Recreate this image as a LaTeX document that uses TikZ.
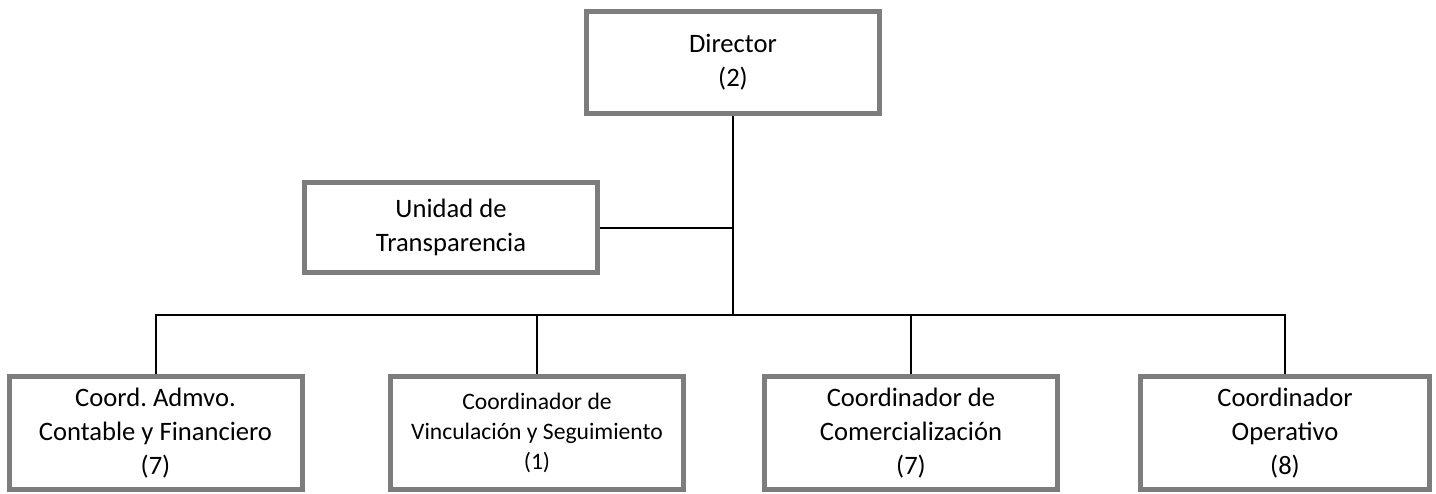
\documentclass[tikz,border=0pt]{standalone}
\usepackage{fontspec}
\setmainfont{Carlito}
\usepackage{tikz}
\usetikzlibrary{calc}
\tikzset{ org_box/.style = {rectangle, draw=gray!98!black, line width=2.5pt, fill=white, align=center, minimum width=146.5pt, inner sep=0pt, font=\fontsize{13.3}{17}\selectfont} }
\tikzset{ org_line/.style = {line width=1pt, black} }

\begin{document}
\begin{tikzpicture}[x=0.5pt, y=-0.5pt]
    \useasboundingbox (0,0) rectangle (1436,493);
    \node[org_box, minimum height=51pt] (dir) at (733,62.5) {Director\\(2)};
    \node[org_box, minimum height=45pt] (uni) at (451,227.5) {Unidad de\\Transparencia};
    \node[org_box, minimum height=56.5pt] (c1) at (155.5,433) {Coord.\ Admvo.\\Contable y Financiero\\(7)};
    \node[org_box, minimum height=56.5pt, font=\fontsize{11.8}{15}\selectfont] (c2) at (537,433) {Coordinador de\\Vinculación y Seguimiento\\(1)};
    \node[org_box, minimum height=56.5pt] (c3) at (911,433) {Coordinador de\\Comercialización\\(7)};
    \node[org_box, minimum height=56.5pt, minimum width=144.5pt] (c4) at (1285,433) {Coordinador\\Operativo\\(8)};
    \coordinate (bus) at (733,315);
    \draw[org_line] (dir.south) -- (bus);
    \draw[org_line] (uni.east) -- (uni.east -| bus);
    \draw[org_line] (c1.north) |- (c4.north |- bus) -- (c4.north);
    \draw[org_line] (c2.north) -- (c2.north |- bus);
    \draw[org_line] (c3.north) -- (c3.north |- bus);
\end{tikzpicture}
\end{document}
